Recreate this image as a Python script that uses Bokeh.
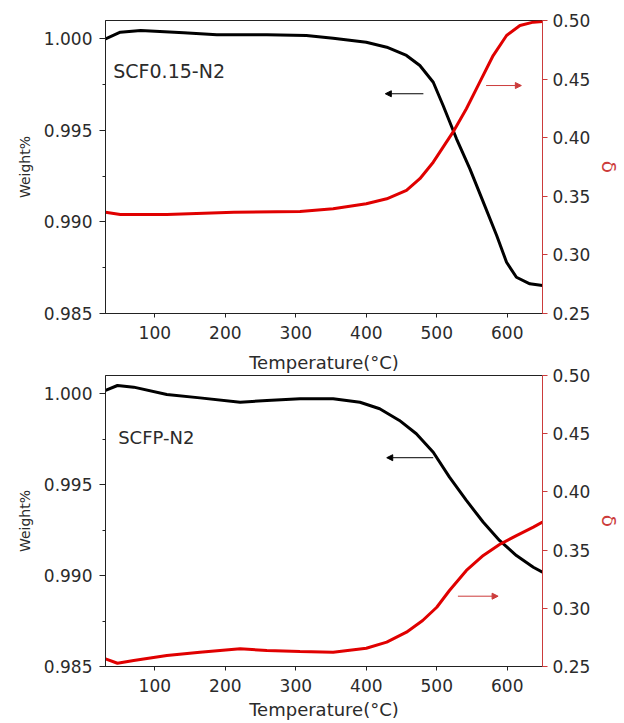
from bokeh.plotting import figure
from bokeh.models import (Range1d, LinearAxis, FixedTicker, PrintfTickFormatter,
                          Label, Arrow, NormalHead)
from bokeh.layouts import column
from bokeh.embed import file_html
from bokeh.resources import INLINE

# ---------------- data ----------------
x_ticks = [100, 200, 300, 400, 500, 600]
w_ticks = [0.985, 0.990, 0.995, 1.000]
w_minor = [0.9875, 0.9925, 0.9975]
d_ticks = [0.25, 0.30, 0.35, 0.40, 0.45, 0.50]

top_name = "SCF0.15-N2"
top_wt_T = [30, 51, 80, 141, 188, 259, 315, 353, 400, 429, 457, 476, 495, 509,
            528, 547, 566, 585, 599, 613, 632, 650]
top_wt = [1.0000, 1.00036, 1.00045, 1.00033, 1.00022, 1.00022, 1.00018, 1.00003,
          0.99981, 0.99954, 0.99909, 0.99854, 0.99763, 0.99636, 0.99454, 0.9929,
          0.99108, 0.98926, 0.9878, 0.98698, 0.98662, 0.98653]
top_d_T = [30, 51, 117, 212, 306, 353, 400, 429, 457, 476, 495, 509, 523, 542,
           561, 580, 599, 618, 637, 650]
top_d = [0.3364, 0.3345, 0.3345, 0.3364, 0.337, 0.3393, 0.3436, 0.3479, 0.355,
         0.365, 0.3791, 0.3919, 0.4047, 0.4247, 0.4474, 0.4701, 0.4872, 0.4957,
         0.4986, 0.4991]

bot_name = "SCFP-N2"
bot_wt_T = [30, 47, 70, 117, 164, 221, 259, 306, 353, 391, 419, 447, 471, 495,
            518, 542, 566, 589, 613, 637, 650]
bot_wt = [1.00018, 1.00045, 1.00036, 0.99996, 0.99977, 0.99953, 0.99963, 0.99972,
          0.99972, 0.99953, 0.99917, 0.99853, 0.9978, 0.99678, 0.99541, 0.99413,
          0.99293, 0.99193, 0.9911, 0.99046, 0.99018]
bot_d_T = [30, 47, 70, 117, 164, 221, 259, 306, 353, 400, 429, 457, 480, 500,
           518, 542, 566, 589, 613, 637, 650]
bot_d = [0.2566, 0.2528, 0.2552, 0.2594, 0.2623, 0.2652, 0.2637, 0.2629, 0.2623,
         0.2657, 0.2709, 0.2795, 0.2895, 0.3009, 0.3153, 0.3325, 0.3454, 0.3548,
         0.3625, 0.3697, 0.374]

x_label = "Temperature(°C)"
w_label = "Weight%"
d_label = "δ"

FONT = "DejaVu Sans"
TXT = "#2b2b2b"
RED = "#e00000"
AXRED = "#cc3b3b"


def panel(wt_T, wt, d_T, d, name, name_xy, name_size, black_arrow, red_arrow,
          h, top, bottom, with_xlabel, title):
    p = figure(width=624, height=h, output_backend="svg", toolbar_location=None,
               x_range=Range1d(30, 650), y_range=Range1d(0.985, 1.001),
               min_border_left=105, min_border_right=81,
               min_border_top=top, min_border_bottom=bottom)
    p.extra_y_ranges = {"d": Range1d(0.25, 0.50)}
    p.xgrid.visible = False
    p.ygrid.visible = False
    p.outline_line_color = "#222222"
    p.outline_line_width = 1
    p.background_fill_color = "white"
    p.border_fill_color = "white"

    if title:
        p.title.text = title
        p.title.align = "center"
        p.title.text_font = FONT
        p.title.text_font_size = "18px"
        p.title.text_font_style = "normal"
        p.title.text_color = TXT
        p.title.standoff = 5

    # x axis
    xa = p.xaxis[0]
    xa.ticker = FixedTicker(ticks=x_ticks, minor_ticks=[])
    if with_xlabel:
        xa.axis_label = x_label
        xa.axis_label_text_font = FONT
        xa.axis_label_text_font_size = "18px"
        xa.axis_label_text_font_style = "normal"
        xa.axis_label_text_color = TXT
        xa.axis_label_standoff = 4
    xa.major_label_text_font = FONT
    xa.major_label_text_font_size = "17px"
    xa.major_label_text_color = TXT
    xa.major_label_standoff = 8
    xa.major_tick_out = 4
    xa.major_tick_in = 0
    xa.axis_line_color = "#222222"
    xa.major_tick_line_color = "#222222"

    # left axis
    ya = p.yaxis[0]
    ya.ticker = FixedTicker(ticks=w_ticks, minor_ticks=w_minor)
    ya.formatter = PrintfTickFormatter(format="%.3f")
    ya.axis_label = w_label
    ya.axis_label_text_font = FONT
    ya.axis_label_text_font_size = "14px"
    ya.axis_label_text_font_style = "normal"
    ya.axis_label_text_color = TXT
    ya.axis_label_standoff = 8
    ya.major_label_text_font = FONT
    ya.major_label_text_font_size = "17px"
    ya.major_label_text_color = TXT
    ya.major_label_standoff = 7
    ya.major_tick_out = 6
    ya.major_tick_in = 0
    ya.minor_tick_out = 3
    ya.minor_tick_in = 0
    ya.axis_line_color = "#222222"
    ya.major_tick_line_color = "#222222"
    ya.minor_tick_line_color = "#222222"

    # right axis
    ra = LinearAxis(y_range_name="d",
                    ticker=FixedTicker(ticks=d_ticks, minor_ticks=[]),
                    formatter=PrintfTickFormatter(format="%.2f"))
    ra.axis_label = d_label
    ra.axis_label_text_font = FONT
    ra.axis_label_text_font_size = "20px"
    ra.axis_label_text_font_style = "normal"
    ra.axis_label_text_color = AXRED
    ra.axis_label_standoff = 4
    ra.major_label_text_font = FONT
    ra.major_label_text_font_size = "17px"
    ra.major_label_text_color = TXT
    ra.major_label_standoff = 5
    ra.major_tick_out = 5
    ra.major_tick_in = 0
    ra.axis_line_color = AXRED
    ra.major_tick_line_color = AXRED
    p.add_layout(ra, "right")

    # curves
    p.line(wt_T, wt, line_color="black", line_width=3)
    p.line(d_T, d, line_color=RED, line_width=3, y_range_name="d")

    # sample name
    p.add_layout(Label(x=name_xy[0], y=name_xy[1], text=name,
                       text_font=FONT, text_font_size=name_size,
                       text_color=TXT, text_baseline="alphabetic"))

    # arrows
    bx0, bx1, by = black_arrow
    p.add_layout(Arrow(x_start=bx0, y_start=by, x_end=bx1, y_end=by,
                       line_color="black", line_width=1,
                       end=NormalHead(size=6, fill_color="black",
                                      line_color="black")))
    rx0, rx1, ry = red_arrow
    p.add_layout(Arrow(x_start=rx0, y_start=ry, x_end=rx1, y_end=ry,
                       y_range_name="d", line_color=AXRED, line_width=1,
                       end=NormalHead(size=6, fill_color=AXRED,
                                      line_color=AXRED)))
    return p


# top panel: its x-axis title is drawn as the title of the lower panel
p1 = panel(top_wt_T, top_wt, top_d_T, top_d, top_name, (41, 0.99822), "19px",
           (481, 427, 0.9970), (570, 620, 0.4445),
           345, 20, 32, False, None)
p2 = panel(bot_wt_T, bot_wt, bot_d_T, bot_d, bot_name, (48, 0.99759), "18px",
           (495, 429, 0.99648), (530, 587, 0.3104),
           378, 30, 57, True, x_label)

layout = column(p1, p2, spacing=0)
open("out.html", "w").write(file_html(layout, INLINE))
